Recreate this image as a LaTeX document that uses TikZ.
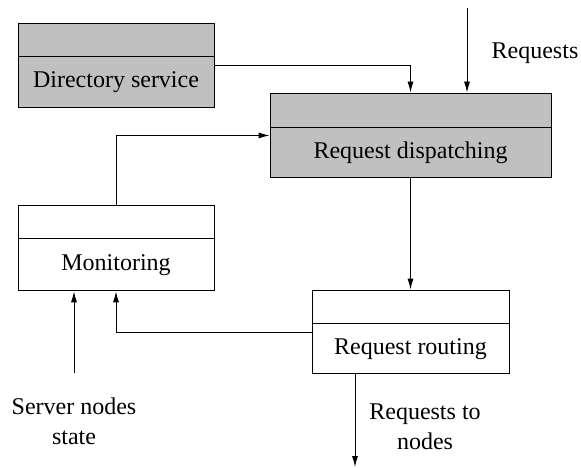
\documentclass[tikz,border=0pt]{standalone}
\usepackage{fontspec}
\setmainfont{Liberation Serif}
\newfontfamily\boxfont{Liberation Serif}
\usetikzlibrary{positioning, arrows.meta}
\definecolor{boxgray}{RGB}{192,192,192}
\tikzstyle{block} = [draw, rectangle, line width=0.9pt, inner sep=0pt]
\tikzstyle{grayblock} = [block, fill=boxgray]
\tikzstyle{label} = [align=center, inner sep=0pt]
\tikzstyle{flow} = [line width=0.9pt, -{Latex[length=11pt,width=6pt]}]

\begin{document}
\begin{tikzpicture}[x=1pt, y=-1pt, font=\boxfont\fontsize{24}{30}\selectfont]
        \useasboundingbox (0,0) rectangle (581,468);

        % upper left
        \node[
            grayblock,
            minimum width=196pt, minimum height=33pt
        ](dirhead) at (116,39.5){};
        \node[
            grayblock,
            below=0pt of dirhead,
            minimum width=196pt, minimum height=51pt
        ](dir){Directory service};

        % dispatcher
        \node[
            grayblock,
            minimum width=281pt, minimum height=34pt
        ](disphead) at (410.5,110){};
        \node[
            grayblock,
            below=0pt of disphead,
            minimum width=281pt, minimum height=50pt
        ](disp){Request dispatching};

        % monitor
        \node[
            block,
            minimum width=196pt, minimum height=33pt
        ](monhead) at (116,221.5){};
        \node[
            block,
            below=0pt of monhead,
            minimum width=196pt, minimum height=52pt
        ](mon){Monitoring};

        % router
        \node[
            block,
            minimum width=197pt, minimum height=33pt
        ](routhead) at (410.5,306.5){};
        \node[
            block,
            below=0pt of routhead,
            minimum width=197pt, minimum height=50pt
        ](rout){Request routing};

        % outside
        \coordinate (reqin) at (467,8);
        \node[label](req) at (535,53){Requests};
        \coordinate (srvin) at (74,373);
        \node[label](srv) at (74,421){Server nodes\\state};
        \coordinate (reqout) at (355,467);
        \node[label](out) at (425,427){Requests to\\nodes};

        \draw[flow] ([yshift=-9pt]dir.north east) -| (disphead.north);
        \draw[flow] (reqin) -- (reqin |- disphead.north);
        \draw[flow] (monhead.north) |- ([yshift=-8pt]disp.north west);
        \draw[flow] (disp.south) -- (routhead.north);
        \draw[flow] ([yshift=-9pt]rout.north west) -| (mon.south);
        \draw[flow] (srvin) -- (srvin |- mon.south);
        \draw[flow] (reqout |- rout.south) -- (reqout);
    \end{tikzpicture}
\end{document}
